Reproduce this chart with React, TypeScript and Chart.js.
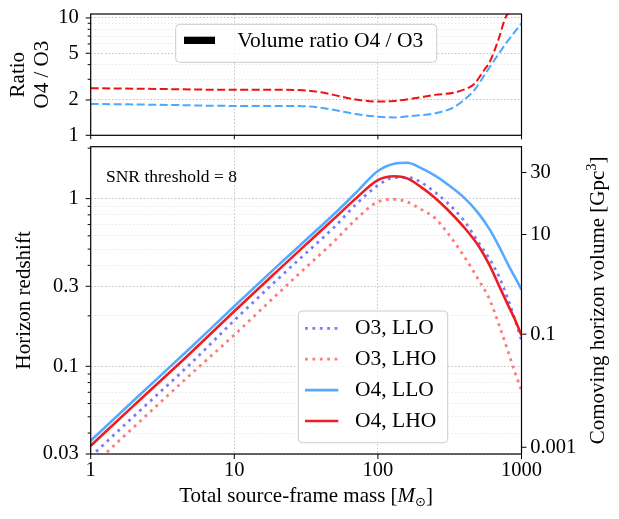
import React, { useEffect, useRef } from 'react';
import { Chart, registerables } from 'chart.js';

Chart.register(...registerables);

const SERIF = "'Liberation Serif', 'Times New Roman', 'DejaVu Serif', serif";

// ---------- Bottom panel: horizon redshift vs total source-frame mass ----------
const masses = [1, 2, 5, 10, 20, 30, 50, 70, 100, 130, 160, 200, 250, 300, 400, 500, 600, 700, 800, 900, 1000];
const zO3LLO = [0.0289, 0.0504, 0.1045, 0.188, 0.33, 0.455, 0.68, 0.92, 1.2, 1.335, 1.34, 1.25, 1.09, 0.956, 0.735, 0.55, 0.435, 0.34, 0.255, 0.19, 0.143];
const zO3LHO = [0.025, 0.0435, 0.09, 0.154, 0.27, 0.374, 0.56, 0.75, 0.957, 0.99, 0.955, 0.863, 0.765, 0.638, 0.451, 0.33, 0.25, 0.175, 0.125, 0.092, 0.072];
const zO4LLO = [0.036, 0.0627, 0.13, 0.228, 0.397, 0.545, 0.815, 1.08, 1.46, 1.615, 1.635, 1.52, 1.37, 1.23, 1.01, 0.82, 0.655, 0.515, 0.41, 0.34, 0.287];
const zO4LHO = [0.0336, 0.0585, 0.121, 0.213, 0.371, 0.512, 0.765, 1.0, 1.29, 1.36, 1.32, 1.17, 1.01, 0.873, 0.671, 0.525, 0.4, 0.3, 0.235, 0.19, 0.153];

// ---------- Top panel: volume ratio O4 / O3 ----------
const ratioMasses = [1, 3, 10, 20, 30, 40, 50, 70, 100, 130, 180, 250, 340, 420, 470, 550, 600, 690, 780, 850, 1000];
const ratioLHO = [2.52, 2.48, 2.44, 2.44, 2.42, 2.33, 2.2, 2.02, 1.94, 1.96, 2.07, 2.21, 2.31, 2.52, 2.75, 3.6, 4.2, 6.5, 10.3, 11.1, 11.2];
const ratioLLO = [1.85, 1.82, 1.78, 1.78, 1.77, 1.72, 1.64, 1.52, 1.44, 1.42, 1.47, 1.54, 1.74, 2.12, 2.43, 3.24, 3.8, 4.89, 6.09, 6.97, 9.0];

// ---------- Ticks ----------
const massTicks = [1, 10, 100, 1000];
const redshiftTicks = [0.03, 0.1, 0.3, 1];
const redshiftMinorTicks = [0.04, 0.05, 0.06, 0.07, 0.08, 0.09, 0.2, 0.4, 0.5, 0.6, 0.7, 0.8, 0.9, 2];
const ratioTicks = [1, 2, 5, 10];
const ratioMinorTicks = [3, 4, 6, 7, 8, 9];
const volumeTickLabels = ['0.001', '0.1', '10', '30'];
const volumeTickRedshifts = [0.0329, 0.1555, 0.611, 1.43];

const seriesLabels = ['O3, LLO', 'O3, LHO', 'O4, LLO', 'O4, LHO'];
const ratioLegendLabel = 'Volume ratio O4 / O3';

const MAJOR_GRID = '#b4b4b4';
const MINOR_GRID = '#e2e2e2';

const W = 619;
const TOP_H = 142;
const BOT_TOP = 140;
const BOT_H = 379;
const PLOT_LEFT = 90.7;
const PLOT_RIGHT = 521.5;

function pts(xs: number[], ys: number[]) {
  return xs.map((x, i) => ({ x, y: ys[i] }));
}

function noPad(s: any) {
  s.paddingTop = 0;
  s.paddingBottom = 0;
  s.paddingLeft = 0;
  s.paddingRight = 0;
}

function drawFrame(chart: any) {
  const { ctx, chartArea: a } = chart;
  ctx.save();
  ctx.setLineDash([]);
  ctx.strokeStyle = '#000';
  ctx.lineWidth = 1.2;
  ctx.strokeRect(a.left, a.top, a.right - a.left, a.bottom - a.top);
  ctx.restore();
}

function drawTickMarks(chart: any, scaleId: string, values: number[], len: number, side: string) {
  const { ctx, chartArea: a } = chart;
  const s = chart.scales[scaleId];
  ctx.save();
  ctx.setLineDash([]);
  ctx.strokeStyle = '#000';
  ctx.lineWidth = 1;
  ctx.beginPath();
  values.forEach((v) => {
    const p = s.getPixelForValue(v);
    if (side === 'bottom') {
      ctx.moveTo(p, a.bottom);
      ctx.lineTo(p, a.bottom + len);
    } else if (side === 'left') {
      ctx.moveTo(a.left, p);
      ctx.lineTo(a.left - len, p);
    } else {
      ctx.moveTo(a.right, p);
      ctx.lineTo(a.right + len, p);
    }
  });
  ctx.stroke();
  ctx.restore();
}

function roundRectPath(ctx: CanvasRenderingContext2D, x: number, y: number, w: number, h: number, r: number) {
  ctx.beginPath();
  ctx.moveTo(x + r, y);
  ctx.lineTo(x + w - r, y);
  ctx.quadraticCurveTo(x + w, y, x + w, y + r);
  ctx.lineTo(x + w, y + h - r);
  ctx.quadraticCurveTo(x + w, y + h, x + w - r, y + h);
  ctx.lineTo(x + r, y + h);
  ctx.quadraticCurveTo(x, y + h, x, y + h - r);
  ctx.lineTo(x, y + r);
  ctx.quadraticCurveTo(x, y, x + r, y);
  ctx.closePath();
}

function drawLegendBox(ctx: CanvasRenderingContext2D, x: number, y: number, w: number, h: number) {
  ctx.save();
  ctx.setLineDash([]);
  roundRectPath(ctx, x, y, w, h, 4);
  ctx.fillStyle = 'rgba(255,255,255,0.8)';
  ctx.fill();
  ctx.strokeStyle = '#cccccc';
  ctx.lineWidth = 1;
  ctx.stroke();
  ctx.restore();
}

function drawParts(ctx: CanvasRenderingContext2D, parts: { t: string; font: string; dy: number }[], cx: number, y: number) {
  let total = 0;
  const widths = parts.map((p) => {
    ctx.font = p.font;
    const w = ctx.measureText(p.t).width;
    total += w;
    return w;
  });
  let x = cx - total / 2;
  ctx.textAlign = 'left';
  ctx.textBaseline = 'alphabetic';
  parts.forEach((p, i) => {
    ctx.font = p.font;
    ctx.fillText(p.t, x, y + p.dy);
    x += widths[i];
  });
}

const tickFont = { family: SERIF, size: 20.5 };

export default function App() {
  const topRef = useRef<HTMLCanvasElement>(null);
  const botRef = useRef<HTMLCanvasElement>(null);

  useEffect(() => {
    Chart.defaults.font.family = SERIF;
    Chart.defaults.color = '#000';

    const topExtras = {
      id: 'topExtras',
      afterDraw(chart: any) {
        const ctx = chart.ctx as CanvasRenderingContext2D;
        drawFrame(chart);
        drawTickMarks(chart, 'x', massTicks, 4, 'bottom');
        drawTickMarks(chart, 'y', ratioTicks, 5, 'left');
        drawTickMarks(chart, 'y', ratioMinorTicks, 3, 'left');
        // legend
        drawLegendBox(ctx, 175.7, 24.3, 261, 38);
        ctx.save();
        ctx.fillStyle = '#000';
        ctx.fillRect(184, 36.7, 31, 7.3);
        ctx.font = `21.5px ${SERIF}`;
        ctx.textAlign = 'left';
        ctx.textBaseline = 'middle';
        ctx.fillText(ratioLegendLabel, 237.3, 41);
        ctx.restore();
      },
    };

    const topChart = new Chart(topRef.current as HTMLCanvasElement, {
      type: 'line',
      data: {
        datasets: [
          {
            label: 'LHO ratio',
            data: pts(ratioMasses, ratioLHO),
            borderColor: '#ee1111',
            borderWidth: 2,
            borderDash: [8, 3.5],
            pointRadius: 0,
            cubicInterpolationMode: 'monotone',
            fill: false,
          },
          {
            label: 'LLO ratio',
            data: pts(ratioMasses, ratioLLO),
            borderColor: '#4aa8ff',
            borderWidth: 2,
            borderDash: [8, 3.5],
            pointRadius: 0,
            cubicInterpolationMode: 'monotone',
            fill: false,
          },
        ],
      },
      options: {
        responsive: false,
        maintainAspectRatio: false,
        animation: false,
        devicePixelRatio: 1,
        layout: { padding: { top: 14, right: W - PLOT_RIGHT, left: 0, bottom: 0 } },
        plugins: { legend: { display: false }, tooltip: { enabled: false } },
        scales: {
          x: {
            type: 'logarithmic',
            min: 1,
            max: 1000,
            afterBuildTicks: (s: any) => {
              s.ticks = massTicks.map((v) => ({ value: v }));
            },
            afterFit: (s: any) => {
              s.height = TOP_H - 135.3;
              noPad(s);
            },
            ticks: { display: false, autoSkip: false },
            grid: { color: MAJOR_GRID, lineWidth: 0.8, drawTicks: false },
            border: { display: false, dash: [1.5, 2] },
          },
          y: {
            type: 'logarithmic',
            min: 1,
            max: 10.8,
            afterBuildTicks: (s: any) => {
              s.ticks = [...ratioTicks, ...ratioMinorTicks].sort((a, b) => a - b).map((v) => ({ value: v }));
            },
            afterFit: (s: any) => {
              s.width = PLOT_LEFT;
              noPad(s);
            },
            ticks: {
              autoSkip: false,
              padding: 12,
              font: tickFont,
              color: '#000',
              callback: (v: any) => (ratioTicks.includes(v) ? String(v) : ''),
            },
            grid: {
              color: (c: any) => (ratioTicks.includes(c.tick?.value) ? MAJOR_GRID : MINOR_GRID),
              lineWidth: 0.8,
              drawTicks: false,
            },
            border: { display: false, dash: [1.5, 2] },
            title: {
              display: true,
              text: ['Ratio', 'O4 / O3'],
              font: { family: SERIF, size: 21, lineHeight: 1.13 },
              color: '#000',
              padding: { top: 6.7, bottom: 0 },
            },
          },
        },
      },
      plugins: [topExtras],
    } as any);

    const botExtras = {
      id: 'botExtras',
      afterDraw(chart: any) {
        const ctx = chart.ctx as CanvasRenderingContext2D;
        const a = chart.chartArea;
        drawFrame(chart);
        drawTickMarks(chart, 'x', massTicks, 5, 'bottom');
        drawTickMarks(chart, 'y', redshiftTicks, 5, 'left');
        drawTickMarks(chart, 'y', redshiftMinorTicks, 3, 'left');
        drawTickMarks(chart, 'y2', volumeTickRedshifts, 5, 'right');

        ctx.save();
        ctx.fillStyle = '#000';
        // annotation
        ctx.font = `17.5px ${SERIF}`;
        ctx.textAlign = 'left';
        ctx.textBaseline = 'alphabetic';
        ctx.fillText('SNR threshold = 8', 106, 42);

        // x-axis title
        drawParts(
          ctx,
          [
            { t: 'Total source-frame mass [', font: `21px ${SERIF}`, dy: 0 },
            { t: 'M', font: `italic 21px ${SERIF}`, dy: 0 },
            { t: '\u2299', font: `13px 'DejaVu Sans', ${SERIF}`, dy: 4 },
            { t: ']', font: `21px ${SERIF}`, dy: 0 },
          ],
          (a.left + a.right) / 2,
          362.3
        );

        // right axis title, rotated
        ctx.save();
        ctx.translate(604, (a.top + a.bottom) / 2);
        ctx.rotate(-Math.PI / 2);
        drawParts(
          ctx,
          [
            { t: 'Comoving horizon volume [Gpc', font: `21px ${SERIF}`, dy: 0 },
            { t: '3', font: `14.5px ${SERIF}`, dy: -8 },
            { t: ']', font: `21px ${SERIF}`, dy: 0 },
          ],
          0,
          0
        );
        ctx.restore();

        // legend
        drawLegendBox(ctx, 298.3, 171, 149.4, 131.7);
        const rows = [188.3, 219.2, 250.1, 281.0];
        const byLabel: Record<string, any> = {};
        chart.data.datasets.forEach((d: any) => {
          byLabel[d.label] = d;
        });
        seriesLabels.forEach((lab, i) => {
          const d = byLabel[lab];
          const y = rows[i];
          ctx.save();
          ctx.strokeStyle = d.borderColor;
          ctx.lineWidth = d.borderWidth;
          ctx.setLineDash(d.borderDash || []);
          ctx.beginPath();
          ctx.moveTo(305, y);
          ctx.lineTo(338.3, y);
          ctx.stroke();
          ctx.restore();
          ctx.font = `21.5px ${SERIF}`;
          ctx.textAlign = 'left';
          ctx.textBaseline = 'middle';
          ctx.fillStyle = '#000';
          ctx.fillText(lab, 355, y);
        });
        ctx.restore();
      },
    };

    const botChart = new Chart(botRef.current as HTMLCanvasElement, {
      type: 'line',
      data: {
        datasets: [
          {
            label: seriesLabels[0],
            data: pts(masses, zO3LLO),
            borderColor: '#7b7bff',
            borderWidth: 2.8,
            borderDash: [2.8, 4.6],
            order: 3,
          },
          {
            label: seriesLabels[1],
            data: pts(masses, zO3LHO),
            borderColor: '#ff7b7b',
            borderWidth: 2.8,
            borderDash: [2.8, 4.6],
            order: 2,
          },
          {
            label: seriesLabels[2],
            data: pts(masses, zO4LLO),
            borderColor: '#55aaff',
            borderWidth: 2.6,
            order: 1,
          },
          {
            label: seriesLabels[3],
            data: pts(masses, zO4LHO),
            borderColor: '#ee1d23',
            borderWidth: 2.6,
            order: 0,
          },
        ].map((d) => ({ ...d, pointRadius: 0, fill: false, cubicInterpolationMode: 'monotone', yAxisID: 'y' })),
      },
      options: {
        responsive: false,
        maintainAspectRatio: false,
        animation: false,
        devicePixelRatio: 1,
        layout: { padding: { top: 146.7 - BOT_TOP, right: 0, left: 0, bottom: 0 } },
        plugins: { legend: { display: false }, tooltip: { enabled: false } },
        scales: {
          x: {
            type: 'logarithmic',
            min: 1,
            max: 1000,
            afterBuildTicks: (s: any) => {
              s.ticks = massTicks.map((v) => ({ value: v }));
            },
            afterFit: (s: any) => {
              s.height = BOT_H - (454 - BOT_TOP);
              noPad(s);
            },
            ticks: {
              autoSkip: false,
              maxRotation: 0,
              minRotation: 0,
              padding: 4.6,
              font: tickFont,
              color: '#000',
              callback: (v: any) => String(v),
            },
            grid: { color: MAJOR_GRID, lineWidth: 0.8, drawTicks: false },
            border: { display: false, dash: [1.5, 2] },
          },
          y: {
            type: 'logarithmic',
            position: 'left',
            min: 0.03,
            max: 2.04,
            afterBuildTicks: (s: any) => {
              s.ticks = [...redshiftTicks, ...redshiftMinorTicks].sort((a, b) => a - b).map((v) => ({ value: v }));
            },
            afterFit: (s: any) => {
              s.width = PLOT_LEFT;
              noPad(s);
            },
            ticks: {
              autoSkip: false,
              padding: 12,
              font: tickFont,
              color: '#000',
              callback: (v: any) => (redshiftTicks.includes(v) ? String(v) : ''),
            },
            grid: {
              color: (c: any) => (redshiftTicks.includes(c.tick?.value) ? MAJOR_GRID : MINOR_GRID),
              lineWidth: 0.8,
              drawTicks: false,
            },
            border: { display: false, dash: [1.5, 2] },
            title: {
              display: true,
              text: 'Horizon redshift',
              font: { family: SERIF, size: 21, lineHeight: 1.2 },
              color: '#000',
              padding: { top: 12, bottom: 0 },
            },
          },
          y2: {
            type: 'logarithmic',
            position: 'right',
            min: 0.03,
            max: 2.04,
            afterBuildTicks: (s: any) => {
              s.ticks = volumeTickRedshifts.map((v) => ({ value: v }));
            },
            afterFit: (s: any) => {
              s.width = W - PLOT_RIGHT;
              noPad(s);
            },
            ticks: {
              autoSkip: false,
              padding: 8.7,
              font: tickFont,
              color: '#000',
              callback: (_v: any, i: number) => volumeTickLabels[i],
            },
            grid: { drawOnChartArea: false, drawTicks: false },
            border: { display: false },
          },
        },
      },
      plugins: [botExtras],
    } as any);

    return () => {
      topChart.destroy();
      botChart.destroy();
    };
  }, []);

  return (
    <div style={{ position: 'absolute', left: 0, top: 0, width: W, height: 519, background: '#fff' }}>
      <canvas
        ref={topRef}
        width={W}
        height={TOP_H}
        style={{ position: 'absolute', left: 0, top: 0, width: W, height: TOP_H }}
      />
      <canvas
        ref={botRef}
        width={W}
        height={BOT_H}
        style={{ position: 'absolute', left: 0, top: BOT_TOP, width: W, height: BOT_H }}
      />
    </div>
  );
}
